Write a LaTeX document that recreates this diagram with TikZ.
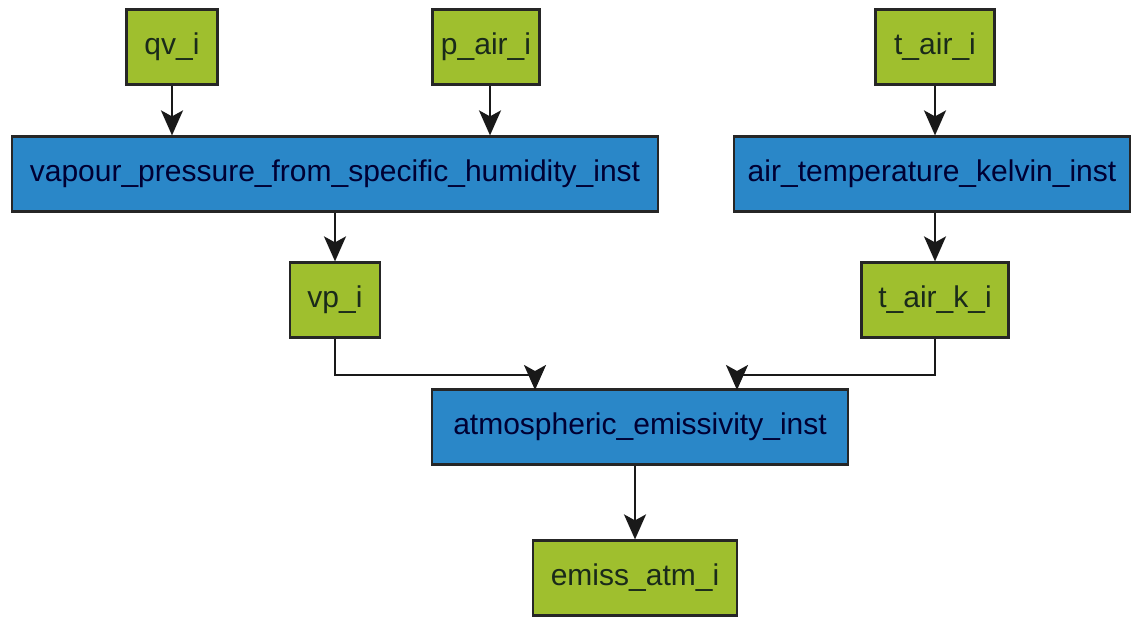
\documentclass[tikz,border=0pt]{standalone}
\usepackage{fontspec}
\setmainfont{Liberation Sans}
\usetikzlibrary{arrows.meta}
\definecolor{vargreen}{HTML}{9FBF2E}
\definecolor{procblue}{HTML}{2A87C8}
\definecolor{inktext}{HTML}{1A2A1A}
\begin{document}
\begin{tikzpicture}[x=1pt,y=-1pt,
  box/.style={draw=black!85, line width=2.2pt, inner sep=0pt, anchor=center,
    font=\fontsize{30}{33}\selectfont, text=inktext, minimum height=75pt},
  var/.style={box, fill=vargreen},
  proc/.style={box, fill=procblue, text=black!80!blue},
  link/.style={line width=2.2pt, draw=black!90, -{Stealth[length=25pt,width=22pt,inset=6pt]}}
]
\useasboundingbox (0,0) rectangle (1134,618);
% variables
\node[var, minimum width=91pt]  (qv)   at (172,47)  {qv\_i};
\node[var, minimum width=107pt] (pair) at (486,47)  {p\_air\_i};
\node[var, minimum width=119pt] (tair) at (935,47)  {t\_air\_i};
% processes
\node[proc, minimum width=646pt] (vap) at (335,174) {vapour\_pressure\_from\_specific\_humidity\_inst};
\node[proc, minimum width=396pt] (atk) at (932,174) {air\_temperature\_kelvin\_inst};
% intermediates
\node[var, minimum width=90pt]  (vp)   at (335,300) {vp\_i};
\node[var, minimum width=147pt] (tairk) at (935,300) {t\_air\_k\_i};
\node[proc, minimum width=416pt] (atm) at (640,427) {atmospheric\_emissivity\_inst};
\node[var, minimum width=204pt] (emiss) at (635,578) {emiss\_atm\_i};
% connectors
\draw[link] (qv.south) -- (qv.south |- vap.north);
\draw[link] ([xshift=4pt]pair.south) -- ([xshift=4pt]pair.south |- vap.north);
\draw[link] (tair.south) -- (tair.south |- atk.north);
\draw[link] (vap.south) -- (vap.south |- vp.north);
\draw[link] (tairk.south |- atk.south) -- (tairk.north);
\coordinate (vpj) at (335,375);
\coordinate (tkj) at (935,375);
\draw[link] (vp.south) -- (vpj) -- (535,375) -- (535,390);
\draw[link] (tairk.south) -- (tkj) -- (737,375) -- (737,390);
\draw[link] (emiss.north |- atm.south) -- (emiss.north);
\end{tikzpicture}
\end{document}
